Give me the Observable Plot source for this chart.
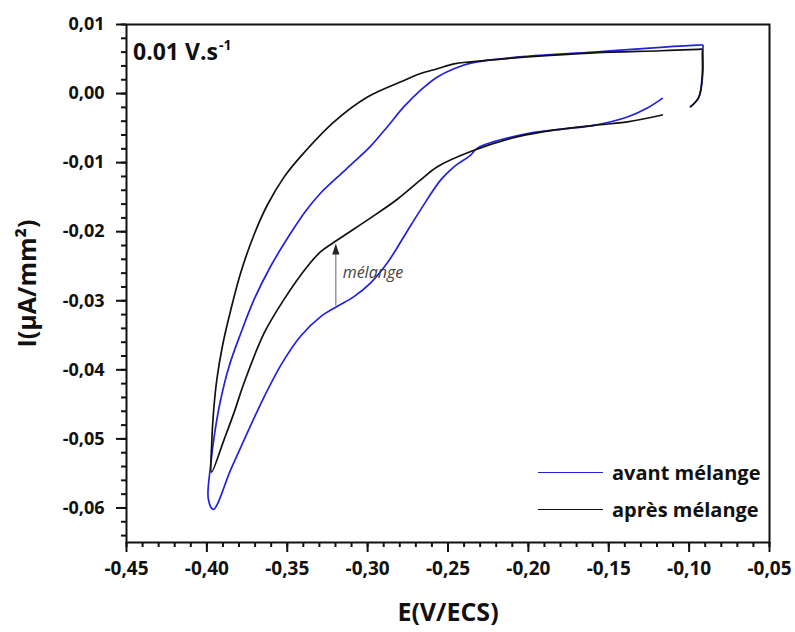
<!DOCTYPE html>
<html><head><meta charset="utf-8">
<script src="https://cdn.jsdelivr.net/npm/d3@7"></script>
<script src="https://cdn.jsdelivr.net/npm/@observablehq/plot@0.6"></script>
<style>
body{margin:0;background:#fff;}
#wrap{position:relative;width:795px;height:632px;font-family:"Open Sans",sans-serif;color:#111;}
#rate{position:absolute;left:133px;top:40px;font-weight:700;font-size:23px;line-height:1;white-space:nowrap;}
#rate sup{font-size:14px;vertical-align:10px;line-height:0;margin-left:1px;}
#legend{position:absolute;left:538px;top:454px;font-weight:700;font-size:20px;}
#legend .row{display:flex;align-items:center;height:37px;}
#legend .sw{width:65px;height:1.8px;margin-right:9px;}
svg text{font-family:"Open Sans",sans-serif;}
g[aria-label="x-axis tick label"]{font-size:19px !important;font-weight:700 !important;}
g[aria-label="y-axis tick label"]{font-size:18px !important;font-weight:700 !important;}
g[aria-label="x-axis tick label"] text, g[aria-label="y-axis tick label"] text{font-weight:700 !important;}
</style></head><body><div id="wrap"></div>
<script>
// ---- data ----
const series = ["avant mélange", "après mélange"];
const colors = ["#2222dd", "#111111"];

const avantE = [-0.0991,-0.0939,-0.0915,-0.0915,-0.0915,-0.0945,-0.1177,-0.1592,-0.2006,-0.2359,-0.2463,-0.2566,-0.2670,-0.2774,-0.2877,-0.2981,-0.3085,-0.3188,-0.3292,-0.3385,-0.3478,-0.3603,-0.3706,-0.3789,-0.3862,-0.3914,-0.3951,-0.3976,-0.3991,-0.3959,-0.3851,-0.3748,-0.3652,-0.3534,-0.3416,-0.3292,-0.3188,-0.3085,-0.2981,-0.2877,-0.2774,-0.2670,-0.2545,-0.2463,-0.2359,-0.2317,-0.2006,-0.1592,-0.1384,-0.1260,-0.1167];
const avantI = [-0.0019,-0.0005,0.0029,0.0064,0.0070,0.0070,0.0067,0.0060,0.0054,0.0044,0.0036,0.0024,0.0005,-0.0019,-0.0048,-0.0076,-0.0099,-0.0121,-0.0144,-0.0170,-0.0202,-0.0250,-0.0298,-0.0347,-0.0395,-0.0443,-0.0491,-0.0537,-0.0587,-0.0602,-0.0544,-0.0491,-0.0443,-0.0391,-0.0351,-0.0323,-0.0308,-0.0294,-0.0274,-0.0245,-0.0207,-0.0168,-0.0125,-0.0106,-0.0089,-0.0079,-0.0058,-0.0046,-0.0034,-0.0021,-0.0007];

const apresE = [-0.0991,-0.0939,-0.0918,-0.0918,-0.0918,-0.0945,-0.1177,-0.1592,-0.2006,-0.2359,-0.2463,-0.2566,-0.2670,-0.2794,-0.3001,-0.3209,-0.3416,-0.3520,-0.3623,-0.3706,-0.3789,-0.3851,-0.3901,-0.3938,-0.3960,-0.3970,-0.3971,-0.3893,-0.3831,-0.3769,-0.3644,-0.3520,-0.3374,-0.3292,-0.3188,-0.2981,-0.2815,-0.2670,-0.2566,-0.2359,-0.2110,-0.1903,-0.1592,-0.1384,-0.1167];
const apresI = [-0.0019,-0.0005,0.0029,0.0058,0.0064,0.0064,0.0062,0.0059,0.0053,0.0046,0.0043,0.0036,0.0029,0.0017,-0.0005,-0.0041,-0.0091,-0.0121,-0.0161,-0.0204,-0.0259,-0.0313,-0.0363,-0.0414,-0.0465,-0.0508,-0.0548,-0.0501,-0.0462,-0.0419,-0.0347,-0.0298,-0.0250,-0.0229,-0.0212,-0.0180,-0.0153,-0.0125,-0.0106,-0.0084,-0.0065,-0.0055,-0.0046,-0.0041,-0.0031];

// arrow annotation "mélange"
const arrowE = [-0.3198];
const arrowFromI = [-0.0308];
const arrowToI = [-0.0232];
const arrowHeadI = [-0.0225];
const noteText = ["mélange"];
const noteE = [-0.3155];
const noteI = [-0.0259];

const xTicks = [-0.45,-0.40,-0.35,-0.30,-0.25,-0.20,-0.15,-0.10,-0.05];
const yTicks = [0.01,0.00,-0.01,-0.02,-0.03,-0.04,-0.05,-0.06];
const xMinor = d3.range(-45, -4, 1).map(v => v / 100);
const yMinor = d3.range(-64, 11, 2).map(v => v / 1000);

const xLabel = "E(V/ECS)";
const yLabel = "I(µA/mm²)";
const rateMain = "0.01 V.s";
const rateExp = "-1";

// ---- build ----
const table = [];
avantE.forEach((e, i) => table.push({E: e, I: avantI[i], s: series[0]}));
apresE.forEach((e, i) => table.push({E: e, I: apresI[i], s: series[1]}));
const arrows = arrowE.map((e, i) => ({E: e, y1: arrowFromI[i], y2: arrowToI[i], yh: arrowHeadI[i]}));
const notes = noteText.map((t, i) => ({t, E: noteE[i], I: noteI[i]}));
const fmt = d => d.toFixed(2).replace(".", ",");

const headSymbol = {draw(ctx) { ctx.moveTo(0, -5.5); ctx.lineTo(3.6, 5.5); ctx.lineTo(-3.6, 5.5); ctx.closePath(); }};

const chart = Plot.plot({
  width: 795, height: 632,
  marginLeft: 126, marginRight: 26, marginTop: 24, marginBottom: 90,
  style: {background: "#fff", color: "#111", fontFamily: "Open Sans"},
  x: {domain: [-0.45, -0.05]},
  y: {domain: [-0.065, 0.01]},
  color: {domain: series, range: colors},
  marks: [
    Plot.line(table, {x: "E", y: "I", z: "s", stroke: "s", strokeWidth: 1.7, curve: "catmull-rom"}),
    Plot.ruleX(arrows, {x: "E", y1: "y1", y2: "y2", stroke: "#888", strokeWidth: 1.3}),
    Plot.dot(arrows, {x: "E", y: "yh", symbol: headSymbol, fill: "#222", stroke: "none"}),
    Plot.text(notes, {x: "E", y: "I", text: "t", textAnchor: "start", fontStyle: "italic", fontSize: 16, fill: "#444"}),
    Plot.frame({stroke: "#111", strokeWidth: 2}),
    Plot.axisX(xMinor, {tickSize: 5, tickFormat: () => "", strokeWidth: 2, label: null}),
    Plot.axisX(xTicks, {tickSize: 10, tickPadding: 9, tickFormat: fmt, strokeWidth: 2, fill: "#111", label: null}),
    Plot.axisY(yMinor, {tickSize: 5, tickFormat: () => "", strokeWidth: 2, label: null}),
    Plot.axisY(yTicks, {tickSize: 10, tickPadding: 12, tickFormat: fmt, strokeWidth: 2, fill: "#111", label: null}),
    Plot.text([xLabel], {frameAnchor: "bottom", lineAnchor: "middle", textAnchor: "middle", dy: 70, fontSize: 25, fontWeight: "bold", fill: "#111"}),
    Plot.text([yLabel], {frameAnchor: "left", lineAnchor: "middle", textAnchor: "middle", dx: -99, rotate: -90, fontSize: 25, fontWeight: "bold", fill: "#111"})
  ]
});

const wrap = document.getElementById("wrap");
wrap.appendChild(chart);

const rate = document.createElement("div");
rate.id = "rate";
rate.append(rateMain);
const sup = document.createElement("sup");
sup.textContent = rateExp;
rate.appendChild(sup);
wrap.appendChild(rate);

const legend = document.createElement("div");
legend.id = "legend";
series.forEach((s, i) => {
  const row = document.createElement("div");
  row.className = "row";
  const sw = document.createElement("div");
  sw.className = "sw";
  sw.style.background = colors[i];
  const lab = document.createElement("span");
  lab.textContent = s;
  row.appendChild(sw);
  row.appendChild(lab);
  legend.appendChild(row);
});
wrap.appendChild(legend);
</script>
</body></html>
